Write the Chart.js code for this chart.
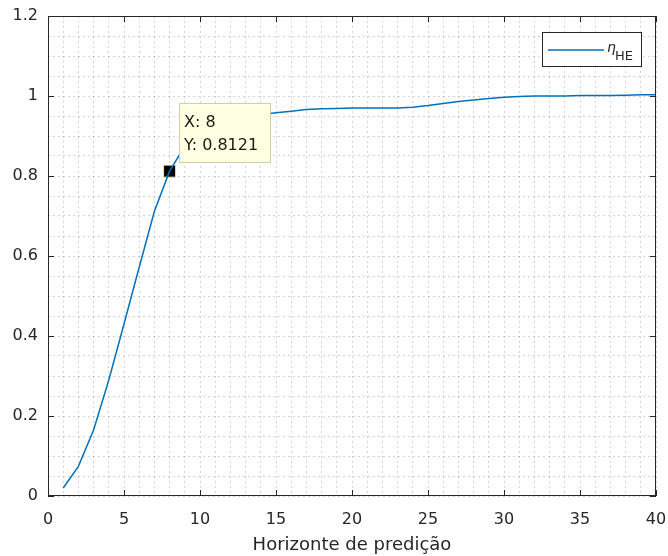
<!DOCTYPE html>
<html><head><meta charset="utf-8">
<script src="https://cdn.jsdelivr.net/npm/chart.js@4"></script>
<style>html,body{margin:0;padding:0;background:#fff;}canvas{display:block;}</style>
</head><body>
<canvas id="c" width="668" height="556"></canvas>
<script>
// ---- data ----
const horizons = [1,2,3,4,5,6,7,8,9,10,11,12,13,14,15,16,17,18,19,20,21,22,23,24,25,26,27,28,29,30,31,32,33,34,35,36,37,38,39,40];
const etaHE = [0.020,0.074,0.165,0.290,0.430,0.572,0.712,0.8121,0.875,0.915,0.935,0.945,0.950,0.954,0.958,0.962,0.966,0.968,0.969,0.970,0.970,0.970,0.970,0.972,0.976,0.981,0.986,0.990,0.994,0.997,0.999,1.000,1.000,1.000,1.001,1.001,1.001,1.002,1.003,1.003];
const xTickLabels = ['0','5','10','15','20','25','30','35','40'];
const yTickLabels = ['0','0.2','0.4','0.6','0.8','1','1.2'];
const tipX = 8;
const tipY = 0.8121;
const seriesName = 'η';
const seriesSub = 'HE';
const xTitle = 'Horizonte de predição';

const FONT = "'DejaVu Sans', 'Liberation Sans', Arial, sans-serif";
const AXIS_COLOR = '#262626';
const LINE_COLOR = '#0072BD';

function findLabel(list, v) {
  for (const l of list) if (Math.abs(parseFloat(l) - v) < 1e-6) return l;
  return '';
}

const decorPlugin = {
  id: 'decor',
  afterDatasetsDraw(chart) {
    const ctx = chart.ctx;
    const a = chart.chartArea;
    const xs = chart.scales.x, ys = chart.scales.y;
    ctx.save();
    // frame
    ctx.strokeStyle = AXIS_COLOR;
    ctx.lineWidth = 1;
    ctx.setLineDash([]);
    ctx.strokeRect(Math.round(a.left) + 0.5, Math.round(a.top) + 0.5, Math.round(a.right - a.left) - 1, Math.round(a.bottom - a.top) - 1);
    // inward ticks
    const tl = 6;
    ctx.beginPath();
    xTickLabels.forEach(l => {
      const px = Math.round(xs.getPixelForValue(parseFloat(l))) + 0.5;
      ctx.moveTo(px, a.bottom); ctx.lineTo(px, a.bottom - tl);
      ctx.moveTo(px, a.top); ctx.lineTo(px, a.top + tl);
    });
    yTickLabels.forEach(l => {
      const py = Math.round(ys.getPixelForValue(parseFloat(l))) + 0.5;
      ctx.moveTo(a.left, py); ctx.lineTo(a.left + tl, py);
      ctx.moveTo(a.right, py); ctx.lineTo(a.right - tl, py);
    });
    ctx.stroke();

    // datatip
    const pt = chart.getDatasetMeta(1).data[0];
    const bx = Math.round(pt.x + 9.5) + 0.5, by = Math.round(pt.y - 68) + 0.5;
    const bw = 91, bh = 59;
    ctx.fillStyle = '#ffffe1';
    ctx.strokeStyle = '#cfcfae';
    ctx.fillRect(bx, by, bw, bh);
    ctx.strokeRect(bx, by, bw, bh);
    ctx.fillStyle = '#1a1a1a';
    ctx.font = '16px ' + FONT;
    ctx.textBaseline = 'middle';
    ctx.textAlign = 'left';
    ctx.fillText('X: ' + tipX, bx + 4.5, by + 19);
    ctx.fillText('Y: ' + tipY, bx + 4.5, by + 42);

    // legend
    const lx = 542.5, ly = 32.5, lw = 99, lh = 34;
    ctx.fillStyle = '#ffffff';
    ctx.fillRect(lx, ly, lw, lh);
    ctx.strokeStyle = AXIS_COLOR;
    ctx.strokeRect(lx, ly, lw, lh);
    ctx.strokeStyle = LINE_COLOR;
    ctx.lineWidth = 1.5;
    ctx.beginPath();
    ctx.moveTo(548, 50); ctx.lineTo(604, 50);
    ctx.stroke();
    ctx.fillStyle = AXIS_COLOR;
    ctx.textBaseline = 'alphabetic';
    ctx.font = 'italic 14px ' + FONT;
    ctx.fillText(seriesName, 607, 52);
    ctx.font = '13px ' + FONT;
    ctx.fillText(seriesSub, 615, 60);
    ctx.restore();
  }
};

new Chart(document.getElementById('c'), {
  type: 'line',
  data: {
    datasets: [
      {
        label: seriesName + seriesSub,
        data: horizons.map((h, i) => ({x: h, y: etaHE[i]})),
        borderColor: LINE_COLOR,
        borderWidth: 1.5,
        pointRadius: 0,
        tension: 0,
        fill: false
      },
      {
        label: 'datatip',
        data: [{x: tipX, y: tipY}],
        showLine: false,
        pointStyle: 'rect',
        pointRadius: 8.5,
        pointBackgroundColor: '#000000',
        pointBorderColor: '#e6e2b8',
        pointBorderWidth: 1
      }
    ]
  },
  options: {
    responsive: false,
    devicePixelRatio: 1,
    animation: false,
    layout: {padding: {top: 16, right: 12, left: 0, bottom: 0}},
    plugins: {legend: {display: false}, tooltip: {enabled: false}},
    scales: {
      x: {
        type: 'linear', min: 0, max: 40,
        afterFit: s => { s.height = 60; s.paddingLeft = 0; s.paddingRight = 0; },
        ticks: {
          stepSize: 1, autoSkip: false, maxRotation: 0, minRotation: 0,
          padding: 14, color: AXIS_COLOR, font: {family: FONT, size: 16},
          callback: v => findLabel(xTickLabels, v)
        },
        grid: {color: 'rgba(0,0,0,0.17)', lineWidth: 1, drawTicks: false},
        border: {display: false, dash: [2, 3]},
        title: {display: true, text: xTitle, color: AXIS_COLOR, font: {family: FONT, size: 18}, padding: {top: 0, bottom: 0}}
      },
      y: {
        type: 'linear', min: 0, max: 1.2,
        afterFit: s => { s.width = 48; s.paddingTop = 0; s.paddingBottom = 0; },
        ticks: {
          stepSize: 0.05, autoSkip: false,
          padding: 10, color: AXIS_COLOR, font: {family: FONT, size: 16},
          callback: v => findLabel(yTickLabels, v)
        },
        grid: {color: 'rgba(0,0,0,0.17)', lineWidth: 1, drawTicks: false},
        border: {display: false, dash: [2, 3]}
      }
    }
  },
  plugins: [decorPlugin]
});
</script>
</body></html>
